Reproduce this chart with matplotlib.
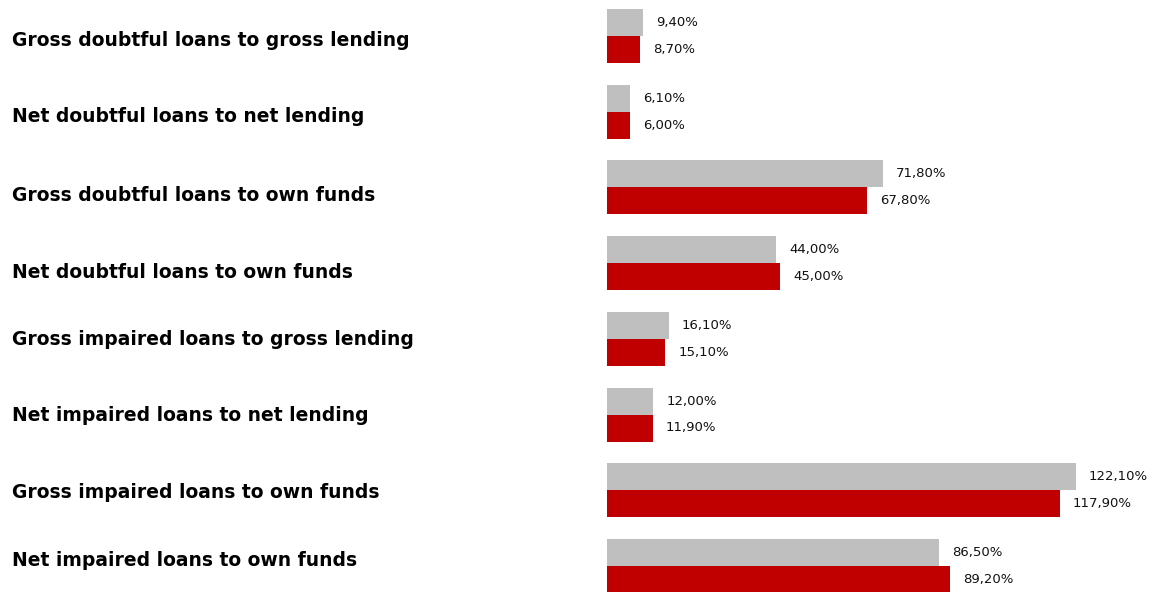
import matplotlib
matplotlib.use("Agg")
import matplotlib.pyplot as plt
import matplotlib.transforms as mtransforms

categories = [
    "Gross doubtful loans to gross lending",
    "Net doubtful loans to net lending",
    "Gross doubtful loans to own funds",
    "Net doubtful loans to own funds",
    "Gross impaired loans to gross lending",
    "Net impaired loans to net lending",
    "Gross impaired loans to own funds",
    "Net impaired loans to own funds",
]
previous = [9.4, 6.1, 71.8, 44.0, 16.1, 12.0, 122.1, 86.5]
current = [8.7, 6.0, 67.8, 45.0, 15.1, 11.9, 117.9, 89.2]

GREY = "#BFBFBF"
RED = "#C00000"

W, H, DPI = 1155, 592, 100
fig = plt.figure(figsize=(W / DPI, H / DPI), dpi=DPI)
fig.patch.set_facecolor("white")

left_px = 607
ax = fig.add_axes([left_px / W, 0, 1 - left_px / W, 1])
pitch = 75.7
first_center = 36
ax.set_ylim((H - first_center) / pitch, -first_center / pitch)
ax.set_xlim(0, (W - left_px) / 3.84)
ax.axis("off")

h = 27 / pitch
ys = list(range(len(categories)))
ax.barh([y - h / 2 for y in ys], previous, height=h, color=GREY, linewidth=0)
ax.barh([y + h / 2 for y in ys], current, height=h, color=RED, linewidth=0)


def fmt(v):
    return f"{v:.2f}".replace(".", ",") + "%"


for y, p, c in zip(ys, previous, current):
    ax.annotate(fmt(p), (p, y - h / 2), xytext=(9.5, 0), textcoords="offset points",
                va="center", ha="left", fontsize=9.5, color="#111111")
    ax.annotate(fmt(c), (c, y + h / 2), xytext=(9.5, 0), textcoords="offset points",
                va="center", ha="left", fontsize=9.5, color="#111111")

trans = mtransforms.blended_transform_factory(fig.transFigure, ax.transData)
label_shift = [5, 5, 8, 9, 1, 1, 2, -5]
for y, name, s in zip(ys, categories, label_shift):
    ax.text(12 / W, y + s / pitch, name, transform=trans, ha="left", va="center",
            fontsize=13.5, fontweight="bold", color="black", clip_on=False)

fig.savefig("out.png", dpi=DPI, facecolor="white")
